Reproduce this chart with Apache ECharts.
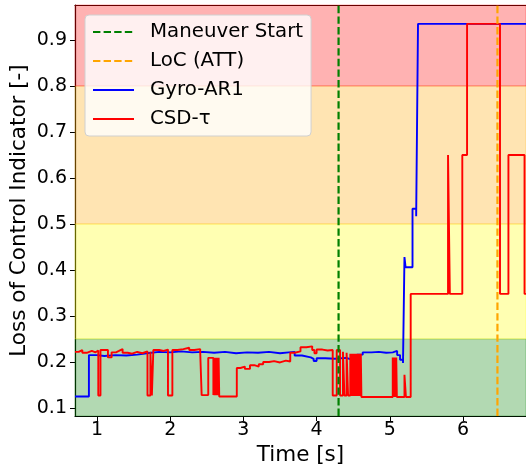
<!DOCTYPE html>
<html>
<head>
<meta charset="utf-8">
<script src="https://cdn.jsdelivr.net/npm/echarts@6/dist/echarts.min.js"></script>
<style>
  html, body { margin: 0; padding: 0; background: #ffffff; }
  #chart { width: 526px; height: 472px; }
</style>
</head>
<body>
<div id="chart"></div>
<script>
// Axis limits (seconds / indicator units)
const xMin = 0.70, xMax = 6.86;
const yMin = 0.0826, yMax = 0.976;
const xTicks = [1, 2, 3, 4, 5, 6];
const yTicks = [0.1, 0.2, 0.3, 0.4, 0.5, 0.6, 0.7, 0.8, 0.9];

// Severity bands: [lower, upper, colour]
const bandLower = [0.0, 0.25, 0.5, 0.8];
const bandUpper = [0.25, 0.5, 0.8, 1.0];
const bandColor = ['0,128,0', '255,255,0', '255,165,0', '255,0,0'];

// Event times
const maneuverStart = 4.30;
const locAtt = 6.47;

// Gyro-AR1 indicator
const gyroTime = [0.70, 0.89, 1.00, 1.10, 1.25, 1.40, 1.55, 1.68, 1.85, 2.00, 2.15, 2.30,
  2.45, 2.60, 2.75, 2.90, 3.05, 3.20, 3.35, 3.50, 3.62, 3.70, 3.80, 3.92, 3.96, 4.00,
  4.12, 4.25, 4.40, 4.47, 4.55, 4.63, 4.75, 4.85, 4.95, 5.04, 5.10, 5.14, 5.18, 5.20,
  5.215, 5.31, 5.36, 5.385, 6.86];
const gyroLoc = [0.125, 0.215, 0.213, 0.215, 0.214, 0.216, 0.219, 0.222, 0.221, 0.223, 0.221, 0.222,
  0.220, 0.222, 0.219, 0.221, 0.220, 0.222, 0.219, 0.221, 0.222, 0.214, 0.210, 0.207, 0.202, 0.208,
  0.207, 0.209, 0.206, 0.208, 0.216, 0.221, 0.222, 0.220, 0.221, 0.224, 0.215, 0.205, 0.198, 0.428,
  0.406, 0.533, 0.517, 0.935, 0.935];

// CSD-tau indicator
const csdTime = [0.70, 0.75, 0.80, 0.86, 0.93, 0.98, 1.018, 1.048, 1.15, 1.20, 1.26, 1.30,
  1.35, 1.42, 1.48, 1.55, 1.62, 1.69, 1.73, 1.75, 1.77, 1.85, 1.91, 1.97, 2.03, 2.10,
  2.18, 2.26, 2.33, 2.41, 2.43, 2.52, 2.59, 2.598, 2.606, 2.614, 2.622, 2.630, 2.638, 2.646,
  2.654, 2.662, 2.670, 2.91, 2.96, 3.02, 3.09, 3.15, 3.21, 3.27, 3.35, 3.42, 3.50, 3.58,
  3.64, 3.70, 3.78, 3.86, 3.94, 3.97, 4.00, 4.08, 4.15, 4.22, 4.275, 4.32, 4.36, 4.38,
  4.41, 4.43, 4.46, 4.468, 4.476, 4.484, 4.492, 4.500, 4.508, 4.516, 4.524, 4.532, 4.540, 4.548,
  4.556, 4.564, 4.572, 4.580, 4.588, 4.596, 4.604, 4.612, 5.04, 5.048, 5.056, 5.064, 5.072, 5.080,
  5.088, 5.096, 5.20, 5.22, 5.285, 5.795, 5.82, 5.99, 6.055, 6.505, 6.62, 6.84, 6.86];
const csdLoc = [0.222, 0.226, 0.220, 0.224, 0.221, 0.225, 0.127, 0.226, 0.210, 0.221, 0.224, 0.228,
  0.220, 0.218, 0.222, 0.219, 0.223, 0.127, 0.222, 0.127, 0.226, 0.224, 0.227, 0.127, 0.226, 0.228,
  0.231, 0.226, 0.228, 0.222, 0.128, 0.209, 0.128, 0.209, 0.128, 0.209, 0.128, 0.209, 0.128, 0.209,
  0.128, 0.209, 0.125, 0.187, 0.190, 0.185, 0.193, 0.190, 0.195, 0.200, 0.202, 0.199, 0.203, 0.201,
  0.220, 0.223, 0.232, 0.234, 0.226, 0.219, 0.227, 0.225, 0.226, 0.127, 0.226, 0.127, 0.222, 0.127,
  0.220, 0.127, 0.218, 0.126, 0.218, 0.126, 0.218, 0.126, 0.218, 0.126, 0.218, 0.126, 0.218, 0.126,
  0.218, 0.126, 0.218, 0.126, 0.218, 0.126, 0.218, 0.124, 0.210, 0.124, 0.210, 0.124, 0.210, 0.124,
  0.210, 0.124, 0.172, 0.124, 0.348, 0.650, 0.348, 0.650, 0.935, 0.348, 0.650, 0.348, 0.348];

const zip = (xs, ys) => xs.map((x, i) => [x, ys[i]]);
const font = 'DejaVu Sans';

const bandAreas = bandLower.map((lo, i) => {
  const c = bandColor[i];
  return [
    { yAxis: Math.max(lo, yMin),
      itemStyle: { color: `rgba(${c},0.3)`, borderColor: `rgba(${c},0.3)`, borderWidth: 1 } },
    { yAxis: Math.min(bandUpper[i], yMax) }
  ];
});

const chart = echarts.init(document.getElementById('chart'), null, { renderer: 'canvas' });
chart.setOption({
  animation: false,
  backgroundColor: '#ffffff',
  grid: { left: 75, right: 0, top: 5, bottom: 56, containLabel: false, outerBoundsMode: 'none' },
  legend: {
    data: ['Maneuver Start', 'LoC (ATT)', 'Gyro-AR1', 'CSD-τ'],
    orient: 'vertical',
    left: 85, top: 15,
    itemWidth: 41, itemHeight: 14, itemGap: 7,
    padding: [6, 8, 6, 7],
    backgroundColor: 'rgba(255,255,255,0.8)',
    borderColor: '#d0d0d0', borderWidth: 1, borderRadius: 4,
    itemStyle: { opacity: 0 },
    textStyle: { fontFamily: font, fontSize: 19.8, color: '#000', lineHeight: 22, padding: [0, 0, 0, 11] }
  },
  xAxis: [{
    type: 'value', min: xMin, max: xMax,
    name: 'Time [s]', nameLocation: 'middle', nameGap: 28, nameMoveOverlap: false,
    nameTextStyle: { fontFamily: font, fontSize: 21.5, color: '#000' },
    axisLine: { show: true, onZero: false, lineStyle: { color: '#000', width: 1.2 } },
    axisTick: { show: true, length: 5, lineStyle: { color: '#000', width: 1 }, customValues: xTicks },
    axisLabel: { fontFamily: font, fontSize: 19, color: '#000', margin: 5, customValues: xTicks,
      formatter: v => String(v) },
    splitLine: { show: false }
  }, {
    type: 'value', min: xMin, max: xMax, position: 'top',
    axisLine: { show: true, onZero: false, lineStyle: { color: '#000', width: 1.2 } },
    axisTick: { show: false }, axisLabel: { show: false }, splitLine: { show: false }
  }],
  yAxis: {
    type: 'value', min: yMin, max: yMax,
    name: 'Loss of Control Indicator [-]', nameLocation: 'middle', nameGap: 45, nameMoveOverlap: false,
    nameTextStyle: { fontFamily: font, fontSize: 21.5, color: '#000' },
    axisLine: { show: true, onZero: false, lineStyle: { color: '#000', width: 1.2 } },
    axisTick: { show: true, length: 5, lineStyle: { color: '#000', width: 1 }, customValues: yTicks },
    axisLabel: { fontFamily: font, fontSize: 19, color: '#000', margin: 8, customValues: yTicks,
      formatter: v => v.toFixed(1) },
    splitLine: { show: false }
  },
  series: [
    {
      name: 'bands', type: 'line', data: [], z: 1, silent: true,
      markArea: { silent: true, data: bandAreas }
    },
    {
      name: 'Gyro-AR1', type: 'line', step: 'end', symbol: 'none', z: 2,
      data: zip(gyroTime, gyroLoc),
      lineStyle: { color: '#0000ff', width: 1.9 }, itemStyle: { color: '#0000ff' }
    },
    {
      name: 'CSD-τ', type: 'line', step: 'end', symbol: 'none', z: 3,
      data: zip(csdTime, csdLoc),
      lineStyle: { color: '#ff0000', width: 1.9 }, itemStyle: { color: '#ff0000' }
    },
    {
      name: 'Maneuver Start', type: 'line', symbol: 'none', z: 4,
      data: [[maneuverStart, yMin], [maneuverStart, yMax]],
      lineStyle: { color: '#008000', width: 2.2, type: [7.4, 3.2] }, itemStyle: { color: '#008000' }
    },
    {
      name: 'LoC (ATT)', type: 'line', symbol: 'none', z: 4,
      data: [[locAtt, yMin], [locAtt, yMax]],
      lineStyle: { color: '#ffa500', width: 2.2, type: [7.4, 3.2] }, itemStyle: { color: '#ffa500' }
    }
  ]
});
</script>
</body>
</html>
